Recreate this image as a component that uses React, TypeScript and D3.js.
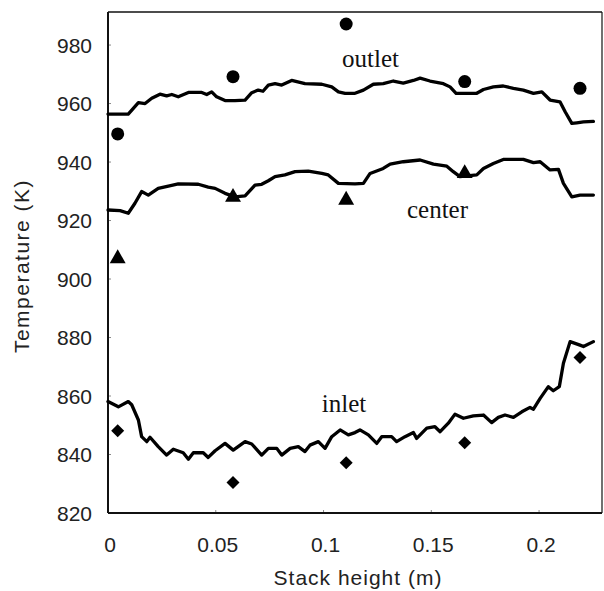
import * as d3 from "d3";
import React from "react";

// stack height (m) / temperature (K)
const outletLine: [number, number][] = [
	[0, 956.4], [0.0094, 956.4], [0.0141, 960.3], [0.0172, 960.0], [0.0203, 961.8],
	[0.0241, 963.2], [0.0272, 962.6], [0.0296, 963.1], [0.0326, 962.3], [0.0373, 963.8],
	[0.0435, 963.8], [0.0458, 963.1], [0.0481, 964.0], [0.0504, 962.3], [0.0543, 961.0],
	[0.0589, 961.0], [0.0636, 961.2], [0.0667, 963.7], [0.0697, 964.6], [0.0719, 964.2],
	[0.0744, 966.3], [0.0775, 966.8], [0.0806, 966.3], [0.0852, 967.9], [0.0914, 966.8],
	[0.0992, 966.6], [0.1038, 965.7], [0.1069, 964.0], [0.11, 963.5], [0.1146, 963.5],
	[0.1185, 964.6], [0.1231, 966.6], [0.1277, 966.8], [0.1324, 967.7], [0.137, 967.0],
	[0.1417, 967.9], [0.1448, 968.7], [0.1494, 967.7], [0.1556, 966.8], [0.1587, 965.7],
	[0.1615, 963.5], [0.1711, 963.5], [0.1742, 964.8], [0.1788, 965.7], [0.1834, 966.0],
	[0.1881, 965.2], [0.1927, 964.6], [0.1974, 963.5], [0.2013, 964.0], [0.2051, 961.2],
	[0.2097, 960.6], [0.2121, 957.2], [0.2152, 953.2], [0.2175, 953.4], [0.2206, 953.7],
	[0.2252, 953.9],
];

const centerLine: [number, number][] = [
	[0, 923.6], [0.0056, 923.4], [0.0094, 922.5], [0.0125, 925.9], [0.0156, 929.9],
	[0.0187, 928.7], [0.0233, 931.0], [0.028, 931.8], [0.0326, 932.5], [0.0419, 932.4],
	[0.0465, 931.4], [0.0497, 931.0], [0.0543, 929.3], [0.0589, 928.1], [0.0636, 928.4],
	[0.0682, 932.1], [0.0713, 932.4], [0.0744, 933.6], [0.0775, 935.0], [0.0821, 935.6],
	[0.0868, 936.7], [0.0929, 936.9], [0.0992, 936.1], [0.1022, 935.6], [0.1069, 932.7],
	[0.1146, 932.5], [0.1185, 932.7], [0.1216, 936.1], [0.1277, 937.8], [0.1309, 939.3],
	[0.137, 940.1], [0.1448, 940.7], [0.151, 939.3], [0.1572, 938.6], [0.1602, 936.7],
	[0.1633, 935.0], [0.1711, 935.6], [0.1742, 937.8], [0.1788, 939.5], [0.1834, 940.9],
	[0.1927, 940.9], [0.1974, 939.8], [0.2005, 940.1], [0.2051, 937.3], [0.209, 937.5],
	[0.2113, 932.7], [0.2152, 928.1], [0.219, 928.7], [0.2252, 928.7],
];

const inletLine: [number, number][] = [
	[0, 858.1], [0.0048, 856.3], [0.0094, 858.1], [0.011, 857.0], [0.0141, 851.8],
	[0.0156, 846.1], [0.018, 844.4], [0.0195, 845.9], [0.0233, 842.7], [0.0272, 839.8],
	[0.0303, 841.8], [0.0349, 840.6], [0.0373, 838.4], [0.0396, 840.6], [0.0442, 840.6],
	[0.0465, 839.0], [0.0497, 841.3], [0.0543, 843.8], [0.0581, 841.5], [0.0636, 844.4],
	[0.0667, 843.6], [0.0713, 839.8], [0.0744, 842.1], [0.0783, 842.1], [0.0806, 839.8],
	[0.0845, 842.1], [0.0883, 842.7], [0.0914, 841.0], [0.0937, 843.2], [0.0976, 844.4],
	[0.1007, 842.1], [0.1038, 846.1], [0.1077, 848.4], [0.1115, 846.7], [0.1146, 847.5],
	[0.1169, 848.4], [0.1208, 846.7], [0.1247, 843.8], [0.127, 846.1], [0.1316, 846.1],
	[0.1339, 844.4], [0.1378, 846.1], [0.1417, 847.5], [0.1432, 845.5], [0.1479, 849.0],
	[0.1517, 849.5], [0.1541, 847.8], [0.1579, 850.7], [0.161, 853.8], [0.1649, 852.4],
	[0.1695, 853.2], [0.1742, 853.5], [0.178, 850.9], [0.1811, 852.7], [0.1842, 853.5],
	[0.1881, 852.7], [0.192, 854.6], [0.1958, 856.1], [0.1974, 855.5], [0.2005, 859.2],
	[0.2043, 863.2], [0.2066, 861.8], [0.2094, 863.2], [0.2113, 871.2], [0.2144, 878.6],
	[0.219, 877.4], [0.2206, 876.9], [0.2252, 878.6],
];

// measured points
const markerX = [0.0045, 0.058, 0.1105, 0.1655, 0.219];
const outletPoints = [949.6, 969.2, 987.2, 967.5, 965.2];
const centerPoints = [907.0, 928.0, 927.0, 936.1];
const inletPoints = [848.1, 830.4, 837.2, 844.0, 873.2];

const xTicks = [0, 0.05, 0.1, 0.15, 0.2];
const xTickLabels = ["0", "0.05", "0.1", "0.15", "0.2"];
const yTicks = [820, 840, 860, 880, 900, 920, 940, 960, 980];

const seriesLabels = [
	{ text: "outlet", x: 0.1086, y: 972.5 },
	{ text: "center", x: 0.1387, y: 920.9 },
	{ text: "inlet", x: 0.0992, y: 854.5 },
];

const W = 604;
const H = 591;
const left = 108;
const right = 602;
const top = 12;
const bottom = 513;
const sans = "'Liberation Sans', Arial, sans-serif";
const serif = "'Liberation Serif', 'Times New Roman', serif";

const App = () => {
	const x = d3.scaleLinear().domain([0, 0.2292]).range([left, right]);
	const y = d3.scaleLinear().domain([820, 991.3]).range([bottom, top]);

	const line = d3
		.line<[number, number]>()
		.x((d) => x(d[0]))
		.y((d) => y(d[1]));

	const triangle = d3.symbol(d3.symbolTriangle, 110)();
	const diamond = "M0,-6.5L6.5,0L0,6.5L-6.5,0Z";

	return (
		<svg
			width={W}
			height={H}
			viewBox={`0 0 ${W} ${H}`}
			style={{ position: "absolute", left: 0, top: 0, background: "#fff" }}
		>
			<rect x={0} y={0} width={W} height={H} fill="#fff" />

			{/* faint inner ticks */}
			{yTicks.map((t) => (
				<line
					key={`yt${t}`}
					x1={left}
					x2={left + 3}
					y1={y(t)}
					y2={y(t)}
					stroke="#888"
					strokeWidth={1}
				/>
			))}
			{xTicks.map((t) => (
				<line
					key={`xt${t}`}
					x1={x(t)}
					x2={x(t)}
					y1={bottom}
					y2={bottom - 3}
					stroke="#888"
					strokeWidth={1}
				/>
			))}

			{/* frame */}
			<line x1={left} x2={right} y1={top} y2={top} stroke="#111" strokeWidth={1.5} />
			<line x1={right} x2={right} y1={top} y2={bottom} stroke="#111" strokeWidth={1.2} />
			<line x1={left} x2={left} y1={top} y2={bottom} stroke="#111" strokeWidth={2} />
			<line x1={left} x2={right} y1={bottom} y2={bottom} stroke="#111" strokeWidth={2} />

			{[outletLine, centerLine, inletLine].map((d, i) => (
				<path
					key={`l${i}`}
					d={line(d) ?? ""}
					fill="none"
					stroke="#000"
					strokeWidth={3.3}
					strokeLinejoin="round"
					strokeLinecap="round"
				/>
			))}

			{outletPoints.map((v, i) => (
				<circle key={`o${i}`} cx={x(markerX[i])} cy={y(v)} r={6.5} fill="#000" />
			))}
			{centerPoints.map((v, i) => (
				<path
					key={`c${i}`}
					d={triangle ?? ""}
					transform={`translate(${x(markerX[i])},${y(v)})`}
					fill="#000"
				/>
			))}
			{inletPoints.map((v, i) => (
				<path
					key={`i${i}`}
					d={diamond}
					transform={`translate(${x(markerX[i])},${y(v)})`}
					fill="#000"
				/>
			))}

			{seriesLabels.map((l) => (
				<text
					key={l.text}
					x={x(l.x)}
					y={y(l.y)}
					fontFamily={serif}
					fontSize={25}
					fill="#111"
				>
					{l.text}
				</text>
			))}

			{yTicks.map((t) => (
				<text
					key={`yl${t}`}
					x={left - 16}
					y={y(t)}
					dy="0.36em"
					textAnchor="end"
					fontFamily={sans}
					fontSize={21}
					fill="#222"
				>
					{t}
				</text>
			))}
			{xTicks.map((t, i) => (
				<text
					key={`xl${t}`}
					x={x(t) + 2}
					y={552}
					textAnchor="middle"
					fontFamily={sans}
					fontSize={21}
					fill="#222"
				>
					{xTickLabels[i]}
				</text>
			))}

			<text
				x={358}
				y={585}
				textAnchor="middle"
				fontFamily={sans}
				fontSize={21}
				letterSpacing={1}
				fill="#222"
			>
				Stack height (m)
			</text>
			<text
				transform={`translate(29,266) rotate(-90)`}
				textAnchor="middle"
				fontFamily={sans}
				fontSize={21}
				letterSpacing={1.5}
				fill="#222"
			>
				Temperature (K)
			</text>
		</svg>
	);
};

export default App;
